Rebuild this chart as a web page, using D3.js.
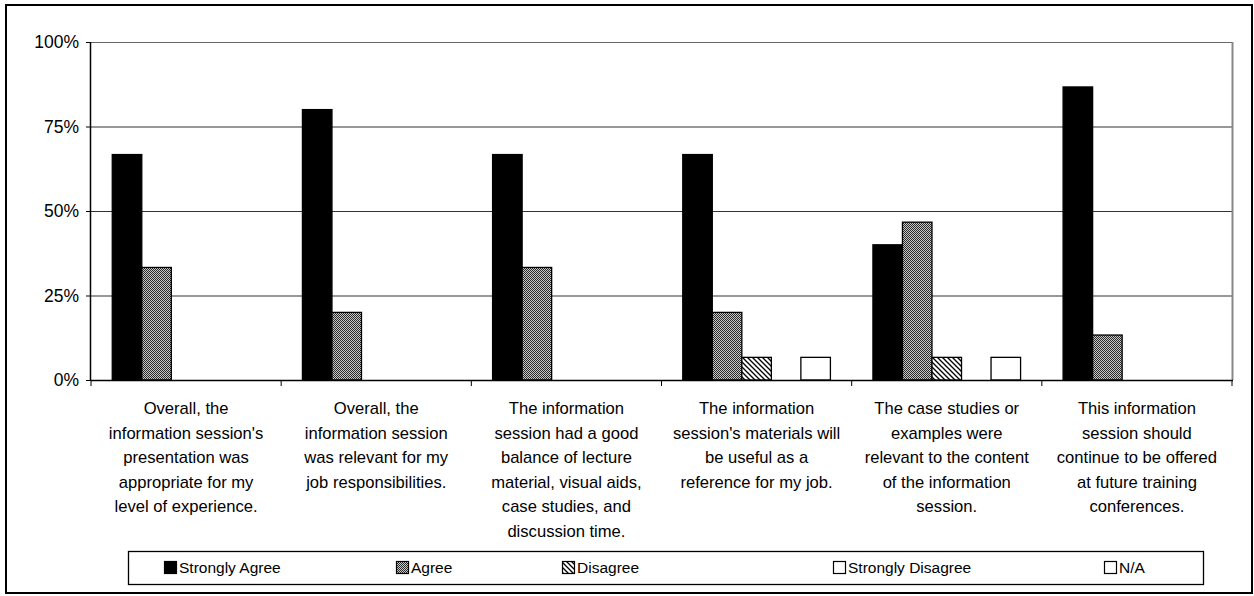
<!DOCTYPE html>
<html><head><meta charset="utf-8">
<script src="https://cdn.jsdelivr.net/npm/d3@7"></script>
<style>body{margin:0;background:#fff}svg{display:block}text{font-family:"Liberation Sans",Arial,sans-serif;fill:#000}</style>
</head><body><svg id="c" width="1254" height="596"></svg>
<script>
const categories = [
  ["Overall, the","information session's","presentation was","appropriate for my","level of experience."],
  ["Overall, the","information session","was relevant for my","job responsibilities."],
  ["The information","session had a good","balance of lecture","material, visual aids,","case studies, and","discussion time."],
  ["The information","session's materials will","be useful as a","reference for my job."],
  ["The case studies or","examples were","relevant to the content","of the information","session."],
  ["This information","session should","continue to be offered","at future training","conferences."]
];
const seriesNames = ["Strongly Agree","Agree","Disagree","Strongly Disagree","N/A"];
const stronglyAgree   = [66.7, 80.0, 66.7, 66.7, 40.0, 86.7];
const agree           = [33.3, 20.0, 33.3, 20.0, 46.7, 13.3];
const disagree        = [0, 0, 0, 6.7, 6.7, 0];
const stronglyDisagree= [0, 0, 0, 0, 0, 0];
const na              = [0, 0, 0, 6.7, 6.7, 0];
const yTicks = [0, 25, 50, 75, 100];
const seriesValues = [stronglyAgree, agree, disagree, stronglyDisagree, na];

const svg = d3.select("#c");
const defs = svg.append("defs");
const pa = defs.append("pattern").attr("id","pAgree").attr("width",2).attr("height",2).attr("patternUnits","userSpaceOnUse");
pa.append("rect").attr("width",2).attr("height",2).attr("fill","#c8c8c8").attr("shape-rendering","crispEdges");
pa.append("rect").attr("x",0).attr("y",0).attr("width",1).attr("height",1).attr("fill","#2a2a2a").attr("shape-rendering","crispEdges");
pa.append("rect").attr("x",1).attr("y",1).attr("width",1).attr("height",1).attr("fill","#2a2a2a").attr("shape-rendering","crispEdges");
const pd = defs.append("pattern").attr("id","pDis").attr("width",5).attr("height",5).attr("patternUnits","userSpaceOnUse");
pd.append("rect").attr("width",5).attr("height",5).attr("fill","#fff");
pd.append("path").attr("d","M-1,-1 L6,6 M-1,4 L1,6 M4,-1 L6,1").attr("stroke","#000").attr("stroke-width",1.3);
const fills = ["#000","url(#pAgree)","url(#pDis)","#fff","#fff"];

// outer border
svg.append("rect").attr("x",6).attr("y",5).attr("width",1246).attr("height",588).attr("fill","none").attr("stroke","#000").attr("stroke-width",2);

const L=91, R=1232, T=42, B=380;
const x0 = d3.scaleBand().domain(d3.range(categories.length)).range([L,R]).paddingInner(0).paddingOuter(0);
const x1 = d3.scaleBand().domain(d3.range(seriesNames.length)).range([0,x0.bandwidth()]).paddingOuter(0.72).paddingInner(0);
const y = d3.scaleLinear().domain([0,100]).range([B,T]);

// gridlines
svg.append("g").selectAll("line").data(yTicks.filter(d=>d>0)).join("line")
  .attr("x1",L).attr("x2",R).attr("y1",d=>y(d)+0.5).attr("y2",d=>y(d)+0.5)
  .attr("stroke",d=>d===100?"#666":"#333").attr("stroke-width",1.2);
svg.append("line").attr("x1",R+0.5).attr("x2",R+0.5).attr("y1",T).attr("y2",B).attr("stroke","#888").attr("stroke-width",2);

// bars
const g = svg.append("g");
seriesValues.forEach((vals,si)=>{
  g.selectAll(null).data(vals.map((v,ci)=>({v,ci}))).join("rect")
    .filter(d=>d.v>0)
    .attr("x",d=>x0(d.ci)+x1(si))
    .attr("y",d=>y(d.v))
    .attr("width",x1.bandwidth())
    .attr("height",d=>B-y(d.v))
    .attr("fill",fills[si]).attr("stroke","#000").attr("stroke-width",1.3);
});

// y axis
const ya = svg.append("g").attr("transform",`translate(${L},0)`)
  .call(d3.axisLeft(y).tickValues(yTicks).tickFormat(d=>d+"%").tickSize(5).tickPadding(7));
ya.select(".domain").attr("stroke","#000").attr("stroke-width",1.5).attr("d",`M-0.5,${T}V${B}`);
ya.selectAll(".tick line").attr("stroke","#000");
ya.selectAll("text").attr("font-size",17.5).attr("font-family","Liberation Sans, Arial, sans-serif").attr("fill","#000");

// x axis
svg.append("line").attr("x1",L).attr("x2",R+1).attr("y1",B+0.5).attr("y2",B+0.5).attr("stroke","#000").attr("stroke-width",1.5);
svg.append("g").selectAll("line").data(d3.range(categories.length+1)).join("line")
  .attr("x1",i=>L+i*x0.bandwidth()).attr("x2",i=>L+i*x0.bandwidth())
  .attr("y1",B).attr("y2",B+6).attr("stroke","#000");

// category labels
categories.forEach((lines,ci)=>{
  const t = svg.append("text").attr("text-anchor","middle").attr("font-size",16.6)
    .attr("x",x0(ci)+x0.bandwidth()/2).attr("y",414);
  lines.forEach((ln,li)=>t.append("tspan").attr("x",x0(ci)+x0.bandwidth()/2).attr("dy",li===0?0:24.5).text(ln));
});

// legend
svg.append("rect").attr("x",128.5).attr("y",551.5).attr("width",1075).attr("height",33).attr("fill","none").attr("stroke","#000").attr("stroke-width",1.3);
const legX = [164, 396, 562, 833, 1104];
seriesNames.forEach((n,i)=>{
  svg.append("rect").attr("x",legX[i]+0.5).attr("y",561.5).attr("width",12).attr("height",12).attr("fill",fills[i]).attr("stroke","#000").attr("stroke-width",1.2);
  svg.append("text").attr("x",legX[i]+15).attr("y",573).attr("font-size",15.5).text(n);
});
</script></body></html>
